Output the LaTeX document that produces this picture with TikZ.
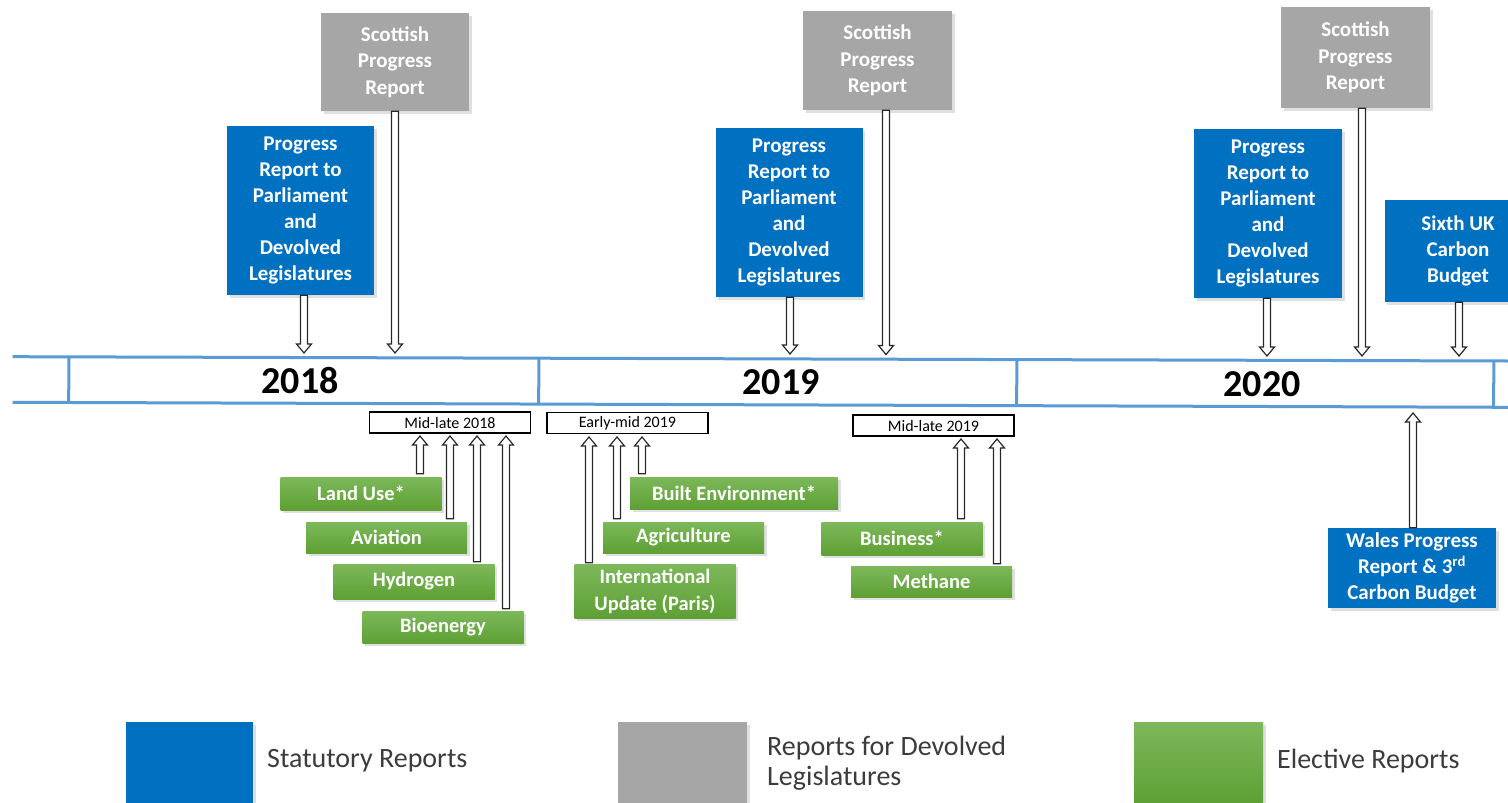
\documentclass[tikz,border=0pt]{standalone}
\usepackage{fontspec}
\setmainfont{Carlito}
\usetikzlibrary{calc,shadows}
\definecolor{cblue}{RGB}{0,112,192}
\definecolor{cgray}{RGB}{166,166,166}
\definecolor{cgreenT}{RGB}{125,184,90}
\definecolor{cgreenB}{RGB}{94,160,52}
\definecolor{cbar}{RGB}{91,155,213}
\definecolor{ctext}{RGB}{60,60,60}
\definecolor{carrow}{RGB}{40,40,40}
% block arrow: #1 start point, #2 tip point
\newcommand\blockarr[2]{%
  \path (#1) coordinate (ba-s) (#2) coordinate (ba-t);
  \path ($(ba-t)!9pt!(ba-s)$) coordinate (ba-h);
  \draw[arrowbody] ($(ba-s)!3.5pt!90:(ba-t)$) -- ($(ba-h)!3.5pt!-90:(ba-s)$)
    -- ($(ba-h)!7.5pt!-90:(ba-s)$) -- (ba-t) -- ($(ba-h)!7.5pt!90:(ba-s)$)
    -- ($(ba-h)!3.5pt!90:(ba-s)$) -- ($(ba-s)!3.5pt!-90:(ba-t)$) -- cycle;
}
\begin{document}
\begin{tikzpicture}[x=1pt,y=-1pt,
  shadowst/.style={drop shadow={opacity=0.25,shadow xshift=2.5pt,shadow yshift=-2.5pt}},
  statbox/.style={fill=cblue, text=white, align=center, inner sep=0pt,
    font=\bfseries\fontsize{21}{26}\selectfont, shadowst},
  devbox/.style={fill=cgray, text=white, align=center, inner sep=0pt,
    font=\bfseries\fontsize{21}{26.5}\selectfont, shadowst},
  electbox/.style={top color=cgreenT, bottom color=cgreenB, text=white, align=center,
    inner sep=0pt, minimum width=161pt, minimum height=32pt,
    font=\bfseries\fontsize{20.5}{27}\selectfont, shadowst},
  datebox/.style={draw=black, line width=1.5pt, fill=white, minimum width=161pt,
    minimum height=21pt, inner sep=0pt, font=\fontsize{16}{18}\selectfont},
  yearlbl/.style={font=\bfseries\fontsize{38}{40}\selectfont, inner sep=0pt},
  legtext/.style={text=ctext, font=\fontsize{28}{29.5}\selectfont, align=left,
    inner sep=0pt, anchor=west},
  barline/.style={draw=cbar, line width=3pt},
  arrowbody/.style={draw=carrow, fill=white, line width=1.2pt, line join=miter}
]
\clip (0,0) rectangle (1508,803);
\fill[white] (0,0) rectangle (1508,803);

% ---------- timeline bar ----------
\coordinate (barTL) at (12.7,356.7);
\coordinate (barTR) at (1508,361);
\coordinate (barBL) at (12.7,402.3);
\coordinate (barBR) at (1508,407.3);
\draw[barline] (barTL) -- (barTR);
\draw[barline] (barBL) -- (barBR);
\foreach \xx in {70,540,1018,1495}{
  \draw[barline] ($(barTL)!(\xx,0)!(barTR)$) -- ($(barBL)!(\xx,0)!(barBR)$);
}
\node[yearlbl] (y18) at (300,380.5) {2018};
\node[yearlbl] (y19) at (781,382.5) {2019};
\node[yearlbl] (y20) at (1262,384.5) {2020};

% ---------- top boxes ----------
\node[statbox, minimum width=147pt, minimum height=169pt] (b1) at (300.5,210.5)
  {Progress\\Report to\\Parliament\\and\\Devolved\\Legislatures};
\node[devbox, minimum width=148pt, minimum height=98pt] (g1) at (395,62)
  {Scottish\\Progress\\Report};
\node[statbox, minimum width=147pt, minimum height=169pt] (b2) at (789,212.5)
  {Progress\\Report to\\Parliament\\and\\Devolved\\Legislatures};
\node[devbox, minimum width=149pt, minimum height=99pt] (g2) at (877.5,60.5)
  {Scottish\\Progress\\Report};
\node[statbox, minimum width=148pt, minimum height=169pt] (b3) at (1268,213.5)
  {Progress\\Report to\\Parliament\\and\\Devolved\\Legislatures};
\node[devbox, minimum width=149pt, minimum height=101pt] (g3) at (1355.5,57.5)
  {Scottish\\Progress\\Report};
\node[statbox, minimum width=147pt, minimum height=102pt] (s6) at (1458,251)
  {Sixth UK\\Carbon\\Budget};

\blockarr{304,0 |- b1.south}{304,353}
\blockarr{395,0 |- g1.south}{395,353}
\blockarr{790,0 |- b2.south}{790,354}
\blockarr{886,0 |- g2.south}{886,354.5}
\blockarr{1267,0 |- b3.south}{1267,356}
\blockarr{1362,0 |- g3.south}{1362,356}
\blockarr{1459,0 |- s6.south}{1459,356}

% ---------- date labels ----------
\node[datebox] (l1) at (450,422.5) {Mid-late 2018};
\node[datebox] (l2) at (627.5,423) {Early-mid 2019};
\node[datebox] (l3) at (933.5,425.5) {Mid-late 2019};

% ---------- elective reports ----------
\node[electbox, minimum height=33pt] (lu) at (361,493.5) {Land Use*};
\node[electbox, minimum height=31pt] (av) at (386.5,537.5) {Aviation};
\node[electbox, minimum height=35pt] (hy) at (414,581.5) {Hydrogen};
\node[electbox] (bio) at (443,627) {Bioenergy};
\node[electbox, minimum width=208pt] (be) at (734,493) {Built Environment*};
\node[electbox, minimum height=31pt] (ag) at (683.5,537.5) {Agriculture};
\node[electbox, minimum height=54pt] (iu) at (655,591) {International\\Update (Paris)};
\node[electbox, minimum height=33pt] (bu) at (902,538.5) {Business*};
\node[electbox, minimum height=31pt] (me) at (931.5,581.5) {Methane};

\blockarr{$(420,0 |- lu.north)+(0,-3)$}{420,436}
\blockarr{$(450,0 |- av.north)+(0,-3)$}{450,436}
\blockarr{$(477,0 |- hy.north)+(0,-2)$}{477,436}
\blockarr{$(506,0 |- bio.north)+(0,-2)$}{506,436}
\blockarr{$(589,0 |- iu.north)+(0,-1)$}{589,437}
\blockarr{$(617,0 |- ag.north)+(0,-3)$}{617,437}
\blockarr{$(642,0 |- be.north)+(0,-3)$}{642,437}
\blockarr{$(961,0 |- bu.north)+(0,-3)$}{961,439}
\blockarr{$(997,0 |- me.north)+(0,-2)$}{997,439}

% ---------- Wales ----------
\node[statbox, minimum width=168pt, minimum height=80pt] (wa) at (1412,568)
  {Wales Progress\\Report \& 3\textsuperscript{rd}\\Carbon Budget};
\blockarr{1413,0 |- wa.north}{1413,413}

% ---------- legend ----------
\node[statbox, minimum width=127pt, minimum height=81pt] (legS) at (189.5,762.5) {};
\node[legtext] (legSt) at (267,761) {Statutory Reports};
\node[devbox, minimum width=129pt, minimum height=81pt] (legD) at (682.5,762.5) {};
\node[legtext] (legDt) at (767,763) {Reports for Devolved\\Legislatures};
\node[electbox, minimum width=129pt, minimum height=81pt] (legE) at (1198.5,762.5) {};
\node[legtext] (legEt) at (1277,761) {Elective Reports};
\end{tikzpicture}
\end{document}
